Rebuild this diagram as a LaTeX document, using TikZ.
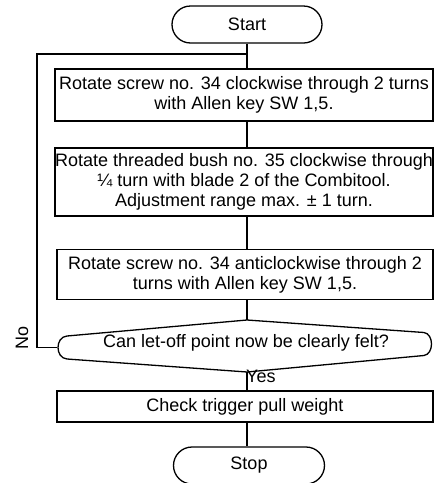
\documentclass[tikz,border=0pt]{standalone}
\usepackage{fontspec}
\setmainfont{Liberation Sans}
\usetikzlibrary{shapes.misc}
\begin{document}
\begin{tikzpicture}[x=1pt,y=-1pt,
  line width=1.3pt,
  every node/.style={font=\fontsize{18}{20}\selectfont, inner sep=0pt},
  stepbox/.style={draw, rectangle, align=center},
  term/.style={draw, rounded rectangle, minimum width=150pt, minimum height=37pt},
  lbl/.style={font=\fontsize{18}{20}\selectfont}]
\useasboundingbox (0,0) rectangle (434,483);
\node[term] (start) at (247,24.5) {Start};
\node[stepbox, minimum width=378pt, minimum height=52pt] (b1) at (244,95)
  {Rotate screw no. 34 clockwise through 2 turns\\with Allen key SW 1,5.};
\node[stepbox, minimum width=378pt, minimum height=68pt] (b2) at (244,182)
  {Rotate threaded bush no. 35 clockwise through\\¼ turn with blade 2 of the Combitool.\\Adjustment range max. ± 1 turn.};
\node[stepbox, minimum width=376pt, minimum height=50pt] (b3) at (245,274.5)
  {Rotate screw no. 34 anticlockwise through 2\\turns with Allen key SW 1,5.};
% decision
\coordinate (dtop) at (247,320);
\coordinate (dbot) at (247,372);
\coordinate (dleft) at (57,347.5);
\draw (dtop) -- (67,336) .. controls (55,337) and (55,358) .. (67,359) -- (dbot)
  -- (424,355.5) .. controls (434,354) and (434,334) .. (424,332.5) -- cycle;
\node (d) at (246,343) {Can let-off point now be clearly felt?};
\node[stepbox, minimum width=376pt, minimum height=31pt] (b4) at (245,406.5)
  {Check trigger pull weight};
\node[term, minimum width=151pt] (stop) at (249,465.5) {Stop};
% connectors
\coordinate (lp) at (247,54);
\draw (start.south) -- (start.south |- b1.north);
\draw (b1.south -| start.south) -- (b2.north -| start.south);
\draw (b2.south -| start.south) -- (b3.north -| start.south);
\draw (b3.south -| dtop) -- (dtop);
\draw (dbot) -- (b4.north -| dbot);
\draw (b4.south -| dbot) -- (stop.north -| dbot);
\draw (dleft) -- ++(-20,0) |- (lp);
\node[lbl, rotate=90] (no) at (22,338) {No};
\node[lbl, anchor=west] (yes) at (245.5,376.5) {Yes};
\end{tikzpicture}
\end{document}
